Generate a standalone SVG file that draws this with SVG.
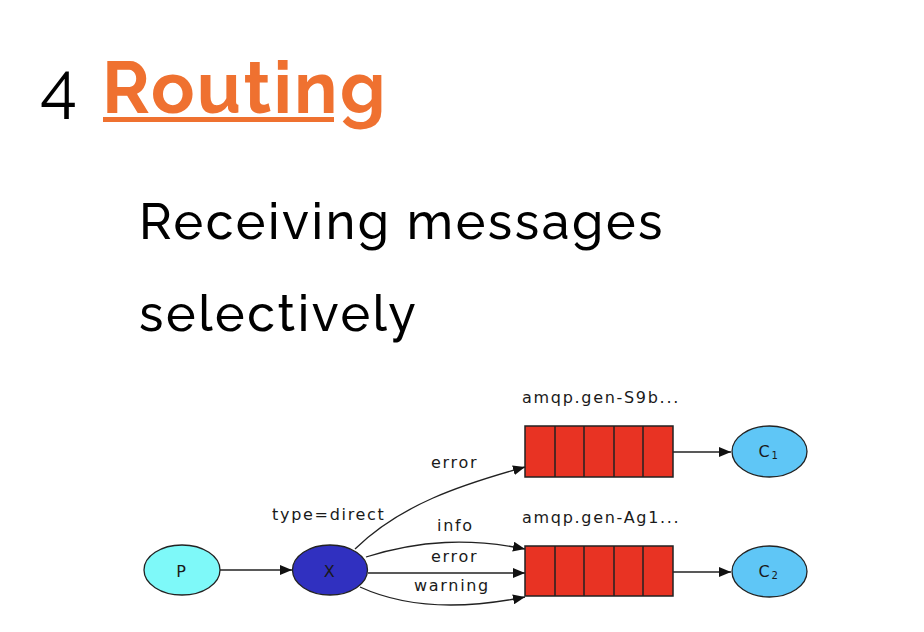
<svg xmlns="http://www.w3.org/2000/svg" width="924" height="632" viewBox="0 0 924 632">
<defs>
<marker id="ah" markerWidth="12" markerHeight="10" refX="12" refY="5" orient="auto" markerUnits="userSpaceOnUse">
<path d="M0,0 L12,5 L0,10 Z" fill="#111"/>
</marker>
<style>
.t{font-family:"Raleway","Lato","Open Sans",sans-serif;fill:#000}
.d{font-family:"DejaVu Sans",sans-serif;font-size:16px;fill:#1a1a1a;letter-spacing:1.7px}
.e{fill:none;stroke:#222;stroke-width:1.3;marker-end:url(#ah)}
.q{fill:#e83323;stroke:#222;stroke-width:1.5}
.qd{stroke:#222;stroke-width:1.5}
.n{stroke:#222;stroke-width:1.3}
</style>
</defs>
<rect width="924" height="632" fill="#fff"/>
<g id="title">
<text class="t" x="40" y="110" font-size="68">4</text>
<text class="t" x="102" y="113" font-size="72" font-weight="700" letter-spacing="2.3" style="fill:#ef7130">Routing</text>
<rect x="103" y="117" width="231" height="5" fill="#ef7130"/>
</g>
<g id="subtitle">
<text class="t" x="139" y="239" font-size="50" font-weight="500" letter-spacing="2.6">Receiving messages</text>
<text class="t" x="139" y="331" font-size="50" font-weight="500" letter-spacing="2.6">selectively</text>
</g>
<g id="connectors">
<line class="e" x1="220" y1="570" x2="292" y2="570"/>
<path class="e" d="M355,549 C400,505 460,485 525,467"/>
<path class="e" d="M366,557 C420,540 470,538 525,549"/>
<path class="e" d="M368,573 L525,573"/>
<path class="e" d="M360,587 C410,610 470,608 525,597"/>
<line class="e" x1="673" y1="452" x2="731" y2="452"/>
<line class="e" x1="673" y1="572" x2="731" y2="572"/>
<text class="d" x="431" y="468">error</text>
<text class="d" x="437" y="531">info</text>
<text class="d" x="431" y="562">error</text>
<text class="d" x="414" y="591">warning</text>
</g>
<g id="P">
<ellipse class="n" cx="182" cy="570" rx="38" ry="25" fill="#7ef9f9"/>
<text class="d" x="182" y="577" text-anchor="middle" font-size="18">P</text>
</g>
<g id="X">
<ellipse class="n" cx="330" cy="570" rx="37.5" ry="25" fill="#3030c0"/>
<text class="d" x="330" y="577" text-anchor="middle" font-size="18">X</text>
<text class="d" x="272" y="520">type=direct</text>
</g>
<g id="Q1">
<text class="d" x="522" y="403">amqp.gen-S9b...</text>
<rect class="q" x="525" y="426" width="148" height="51"/>
<path class="qd" d="M555,426V477M584,426V477M614,426V477M643,426V477"/>
</g>
<g id="Q2">
<text class="d" x="522" y="523">amqp.gen-Ag1...</text>
<rect class="q" x="525" y="546" width="148" height="50"/>
<path class="qd" d="M555,546V596M584,546V596M614,546V596M643,546V596"/>
</g>
<g id="C1">
<ellipse class="n" cx="769.5" cy="451.5" rx="37.5" ry="25.5" fill="#5fc6f6"/>
<text class="d" x="769" y="457" text-anchor="middle">C<tspan font-size="10" dy="2">1</tspan></text>
</g>
<g id="C2">
<ellipse class="n" cx="769.5" cy="571.5" rx="37.5" ry="25.5" fill="#5fc6f6"/>
<text class="d" x="769" y="577" text-anchor="middle">C<tspan font-size="10" dy="2">2</tspan></text>
</g>
</svg>
